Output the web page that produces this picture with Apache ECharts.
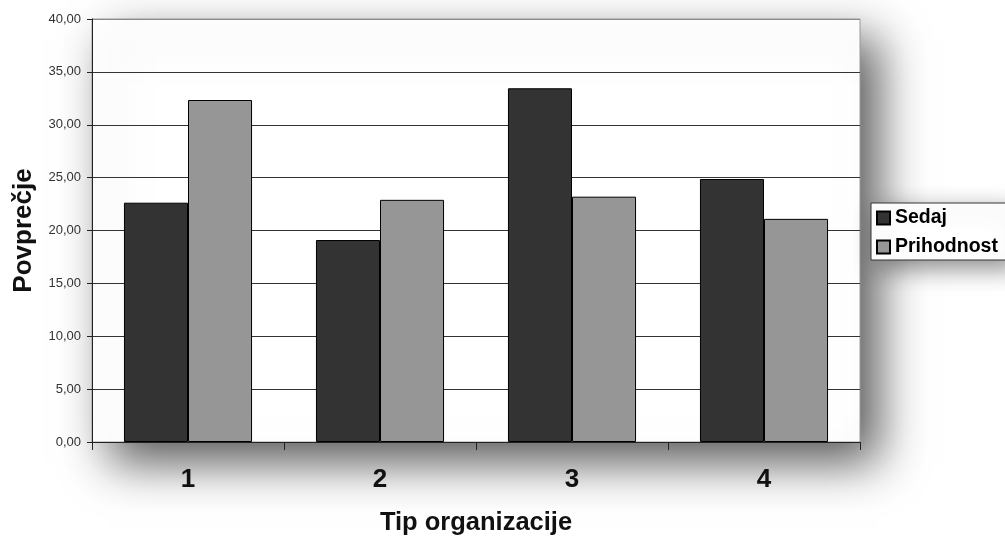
<!DOCTYPE html>
<html>
<head>
<meta charset="utf-8">
<script src="https://cdn.jsdelivr.net/npm/echarts@6/dist/echarts.min.js"></script>
<style>
  html, body { margin: 0; padding: 0; background: #fff; }
  #chart { width: 1005px; height: 537px; }
</style>
</head>
<body>
<div id="chart"></div>
<script>
// Average per organization type: current vs. future
const categories = ['1', '2', '3', '4'];
const sedaj = [22.63, 19.1, 33.45, 24.87];
const prihodnost = [32.34, 22.9, 23.2, 21.1];
const seriesNames = ['Sedaj', 'Prihodnost'];

const font = '"Liberation Sans", Arial, sans-serif';
const comma = v => v.toFixed(2).replace('.', ',');

const chart = echarts.init(document.getElementById('chart'), null, { renderer: 'canvas' });
chart.setOption({
  animation: false,
  backgroundColor: '#fff',
  grid: {
    left: 92, right: 145, top: 19, bottom: 95,
    outerBoundsMode: 'none',
    show: true,
    backgroundColor: '#fff',
    borderColor: '#9a9a9a',
    borderWidth: 1,
    shadowColor: 'rgba(0,0,0,0.65)',
    shadowBlur: 45,
    shadowOffsetX: 18,
    shadowOffsetY: 20
  },
  legend: {
    orient: 'vertical',
    left: 871, top: 203,
    padding: [5, 12, 3, 5],
    itemGap: 9,
    itemWidth: 13, itemHeight: 13,
    icon: 'rect',
    backgroundColor: '#fff',
    borderColor: '#333',
    borderWidth: 1,
    shadowColor: 'rgba(0,0,0,0.45)',
    shadowBlur: 25,
    shadowOffsetX: 8,
    shadowOffsetY: 8,
    textStyle: { fontFamily: font, fontWeight: 'bold', fontSize: 19.5, color: '#000' },
    data: seriesNames
  },
  xAxis: {
    type: 'category',
    data: categories,
    name: 'Tip organizacije',
    nameLocation: 'middle',
    nameGap: 68,
    nameTextStyle: { fontFamily: font, fontWeight: 'bold', fontSize: 25.5, color: '#111' },
    axisLine: { lineStyle: { color: '#222', width: 1 } },
    axisTick: { show: true, length: 8, lineStyle: { color: '#222' } },
    axisLabel: { margin: 25, fontFamily: font, fontWeight: 'bold', fontSize: 26, color: '#111' }
  },
  yAxis: {
    type: 'value',
    min: 0, max: 40, interval: 5,
    name: 'Povprečje',
    nameLocation: 'middle',
    nameRotate: 90,
    nameGap: 55,
    nameTextStyle: { fontFamily: font, fontWeight: 'bold', fontSize: 26, color: '#111' },
    axisLine: { show: true, lineStyle: { color: '#222', width: 1 } },
    axisTick: { show: true, length: 5, lineStyle: { color: '#222' } },
    axisLabel: { margin: 11, fontFamily: font, fontSize: 13, color: '#333', formatter: comma },
    splitLine: {
      show: true,
      lineStyle: { color: ['#222', '#333', '#333', '#333', '#333', '#333', '#333', '#333', '#8a8a8a'], width: 1 }
    }
  },
  series: [
    {
      name: seriesNames[0], type: 'bar', data: sedaj,
      barGap: '0%', barCategoryGap: '33.3%',
      itemStyle: { color: '#333333', borderColor: '#000', borderWidth: 1 }
    },
    {
      name: seriesNames[1], type: 'bar', data: prihodnost,
      barGap: '0%', barCategoryGap: '33.3%',
      itemStyle: { color: '#969696', borderColor: '#000', borderWidth: 1 }
    }
  ]
});
</script>
</body>
</html>
